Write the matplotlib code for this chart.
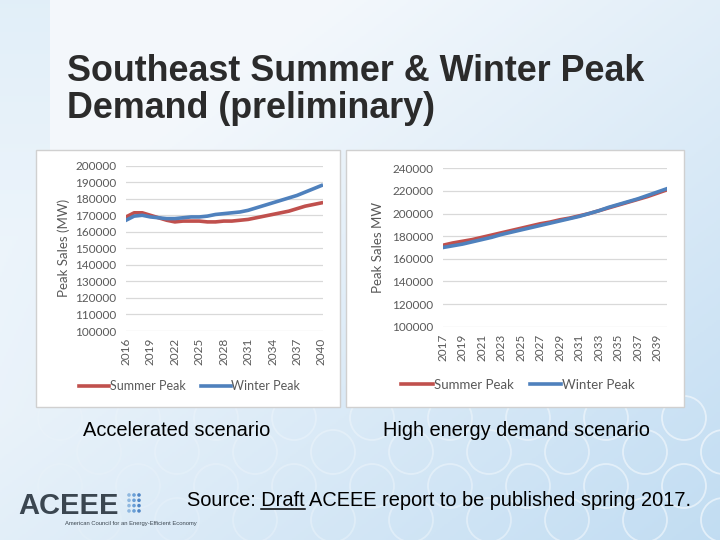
import numpy as np
import matplotlib.pyplot as plt
from matplotlib.patches import Rectangle, Circle

W, H = 720, 540

# Accelerated scenario
years_acc = list(range(2016, 2041))
summer_acc = [169000, 171500, 171500, 170000, 168500, 167000, 166000, 166500, 166500,
              166500, 166000, 166000, 166500, 166500, 167000, 167500, 168500, 169500,
              170500, 171500, 172500, 174000, 175500, 176500, 177500]
winter_acc = [167000, 169500, 170000, 169000, 168500, 168000, 168000, 168500, 169000,
              169000, 169500, 170500, 171000, 171500, 172000, 173000, 174500, 176000,
              177500, 179000, 180500, 182000, 184000, 186000, 188000]

# High energy demand scenario
years_high = list(range(2017, 2041))
summer_high = [172000, 174000, 175500, 177000, 179000, 181000, 183000, 185000, 187000,
               189000, 191000, 192500, 194500, 196000, 198000, 200000, 202500, 205000,
               207500, 210000, 212500, 215000, 218000, 221000]
winter_high = [170000, 171500, 173000, 175000, 177000, 179000, 181500, 183500, 185500,
               187500, 189500, 191500, 193500, 195500, 197500, 200000, 202500, 205500,
               208000, 210500, 213000, 216000, 219000, 222000]

series_labels = ['Summer Peak', 'Winter Peak']
red = '#c0504d'
blue = '#4f81bd'
grey = '#595959'


def box(x0, y0, x1, y1):
    # pixel box (top-left origin) -> figure fraction
    return [x0 / W, 1 - y1 / H, (x1 - x0) / W, (y1 - y0) / H]


def ptext(x, y, s, **kw):
    return fig.text(x / W, 1 - y / H, s, **kw)


fig = plt.figure(figsize=(7.2, 5.4), dpi=100)

# background gradient + bubbles
bg = fig.add_axes([0, 0, 1, 1])
gx, gy = np.meshgrid(np.linspace(0, 1, 360), np.linspace(0, 1, 270))
t = np.clip(0.65 * gx + 0.65 * gy - 0.3, 0, 1)
c0 = np.array([0.955, 0.972, 0.988])
c1 = np.array([0.76, 0.866, 0.95])
img = c0 + (c1 - c0) * t[..., None]
strip = (gx < 50 / 720) * np.clip(1 - gy * 1.3, 0, 1)
img = img - strip[..., None] * np.array([0.07, 0.035, 0.012])
bg.imshow(img, extent=[0, W, H, 0], aspect='auto')
bg.set_xlim(0, W)
bg.set_ylim(H, 0)
bg.axis('off')

for row, cy in enumerate([418, 452, 486, 520]):
    off = 0 if row % 2 == 0 else 39
    for cx in np.arange(60 + off, 760, 78):
        a = min(0.55, 0.05 + 0.5 * cx / W)
        bg.add_patch(Circle((cx, cy), 22, fill=False, ec='white', lw=1.3, alpha=a))

# chart panels
for x0, x1 in [(36, 340), (346, 684)]:
    bg.add_patch(Rectangle((x0, 150), x1 - x0, 257, fc='white', ec='#d0d0d0', lw=1))

plt.rcParams['font.family'] = 'Lato'


def style(ax, ylabel, labx):
    ax.set_facecolor('none')
    for s in ax.spines.values():
        s.set_visible(False)
    ax.grid(axis='y', color='#d9d9d9', lw=0.9)
    ax.set_axisbelow(True)
    ax.tick_params(length=0, labelsize=8.5, labelcolor=grey)
    ax.tick_params(axis='y', pad=7)
    ax.tick_params(axis='x', pad=5, labelrotation=90)
    ax.set_ylabel(ylabel, fontsize=9.5, color=grey)
    ax.yaxis.set_label_coords(labx, 0.5)


ax1 = fig.add_axes(box(126, 165.7, 323, 331))
ax1.plot(years_acc, summer_acc, color=red, lw=2.6, label=series_labels[0])
ax1.plot(years_acc, winter_acc, color=blue, lw=2.6, label=series_labels[1])
ax1.set_xlim(2016, 2040.2)
ax1.set_ylim(100000, 200000)
ax1.set_yticks(range(100000, 200001, 10000))
ax1.set_xticks(range(2016, 2041, 3))
style(ax1, 'Peak Sales (MW)', -0.285)
ax1.legend(loc='center', bbox_to_anchor=(0.324, -0.333), ncol=2, frameon=False,
           fontsize=9, labelcolor=grey, handlelength=2.4, handletextpad=0.05,
           columnspacing=1.2)

ax2 = fig.add_axes(box(443, 168.3, 667, 326.7))
ax2.plot(years_high, summer_high, color=red, lw=2.6, label=series_labels[0])
ax2.plot(years_high, winter_high, color=blue, lw=2.6, label=series_labels[1])
ax2.set_xlim(2017, 2040)
ax2.set_ylim(100000, 240000)
ax2.set_yticks(range(100000, 240001, 20000))
ax2.set_xticks(range(2017, 2040, 2))
style(ax2, 'Peak Sales MW', -0.265)
ax2.legend(loc='center', bbox_to_anchor=(0.335, -0.368), ncol=2, frameon=False,
           fontsize=9.5, labelcolor=grey, handlelength=2.4, handletextpad=0.05,
           columnspacing=1.2)

# slide text
arial = 'Liberation Sans'
ptext(67, 81, 'Southeast Summer & Winter Peak', family=arial, weight='bold',
      fontsize=25.8, color='#2b2b2b', va='baseline')
ptext(67, 118, 'Demand (preliminary)', family=arial, weight='bold',
      fontsize=25.8, color='#2b2b2b', va='baseline')

fs = 14.4
ptext(83, 436, 'Accelerated scenario', family=arial, fontsize=fs, color='black',
      va='baseline')
ptext(383, 436, 'High energy demand scenario', family=arial, fontsize=fs,
      color='black', va='baseline')

src = 'Source: Draft ACEEE report to be published spring 2017.'
ptext(187, 506, src, family=arial, fontsize=fs, color='black', va='baseline')
r = fig.canvas.get_renderer()
m1 = ptext(0, 0, 'Source: Draft', family=arial, fontsize=fs, alpha=0)
m2 = ptext(0, 0, 'Draft', family=arial, fontsize=fs, alpha=0)
w1 = m1.get_window_extent(r).width
w2 = m2.get_window_extent(r).width
bg.plot([187 + w1 - w2, 187 + w1], [508.5, 508.5], color='black', lw=1.1)

# logo
ptext(18, 514, 'ACEEE', family=arial, weight='bold', fontsize=21, color='#3b4650',
      va='baseline')
for i in range(3):
    for j in range(4):
        bg.add_patch(Circle((129 + i * 5, 495 + j * 5.3), 1.8,
                            color=['#8fb8e0', '#6a9fd6', '#4f86c6'][i], lw=0))
ptext(65, 523, 'American Council for an Energy-Efficient Economy', family=arial,
      fontsize=4.2, color='#3b4650', va='center')

fig.savefig('out.png', dpi=100)
